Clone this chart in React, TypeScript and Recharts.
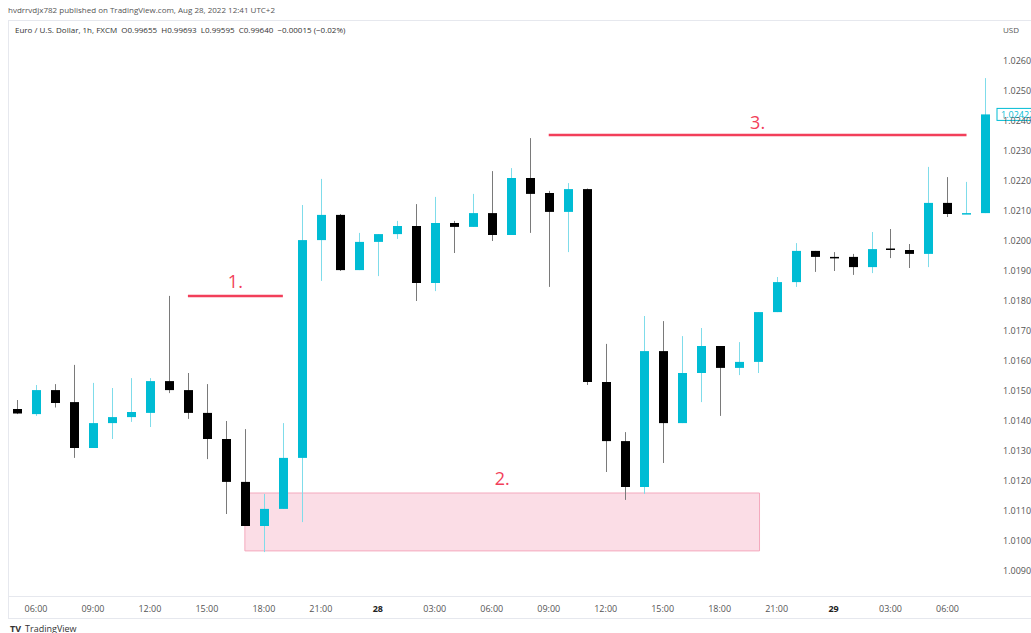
import React from "react";
import { Bar, ComposedChart, ReferenceArea, ReferenceLine, XAxis, YAxis } from "recharts";

// EURUSD 1h candles
const opens = [
  1.0144, 1.01423, 1.01503, 1.01463, 1.0131, 1.01393, 1.01413, 1.01427, 1.01533, 1.01503,
  1.01427, 1.0134, 1.01197, 1.0105, 1.01107, 1.01277, 1.02003, 1.02087, 1.01903, 1.01997,
  1.02023, 1.0205, 1.0186, 1.0206, 1.02047, 1.02093, 1.0202, 1.0221, 1.0216, 1.02097,
  1.02173, 1.0153, 1.01333, 1.0118, 1.01633, 1.01393, 1.0156, 1.0165, 1.01577, 1.01597,
  1.01763, 1.01863, 1.01967, 1.01947, 1.01947, 1.01913, 1.01975, 1.0197, 1.01957, 1.02127,
  1.0209, 1.02093,
];
const highs = [
  1.0147, 1.0152, 1.01523, 1.01587, 1.01527, 1.0151, 1.01543, 1.01543, 1.01817, 1.0156,
  1.01523, 1.014, 1.01373, 1.01157, 1.01393, 1.0212, 1.02207, 1.0209, 1.02027, 1.02023,
  1.02067, 1.02123, 1.02147, 1.02067, 1.02157, 1.02233, 1.02243, 1.02343, 1.02167, 1.02193,
  1.02175, 1.01657, 1.01363, 1.0175, 1.01733, 1.01683, 1.0171, 1.0165, 1.01663, 1.01763,
  1.0188, 1.01993, 1.01967, 1.01963, 1.01957, 1.0203, 1.0204, 1.0199, 1.02247, 1.02213,
  1.02197, 1.02543,
];
const lows = [
  1.01423, 1.01417, 1.01445, 1.01277, 1.0131, 1.0134, 1.01397, 1.0138, 1.01493, 1.01407,
  1.01273, 1.0109, 1.0105, 1.00963, 1.01107, 1.01063, 1.01867, 1.019, 1.01903, 1.01883,
  1.02007, 1.018, 1.01833, 1.0196, 1.02047, 1.02, 1.0202, 1.02027, 1.01847, 1.01963,
  1.0152, 1.0123, 1.01137, 1.01157, 1.0126, 1.01393, 1.01463, 1.01417, 1.01553, 1.0156,
  1.01763, 1.01847, 1.01897, 1.019, 1.01887, 1.01893, 1.01943, 1.0191, 1.01913, 1.0208,
  1.0209, 1.02093,
];
const closes = [
  1.01425, 1.01503, 1.0146, 1.0131, 1.01393, 1.01413, 1.0143, 1.01533, 1.01503, 1.01427,
  1.0134, 1.01197, 1.0105, 1.01107, 1.01277, 1.02003, 1.02087, 1.01903, 1.01997, 1.02023,
  1.0205, 1.0186, 1.0206, 1.02047, 1.02093, 1.0202, 1.0221, 1.02157, 1.02097, 1.02173,
  1.0153, 1.01333, 1.0118, 1.01633, 1.01393, 1.0156, 1.0165, 1.01577, 1.01597, 1.01763,
  1.01863, 1.01967, 1.01947, 1.01945, 1.01913, 1.01973, 1.01973, 1.01957, 1.02127, 1.0209,
  1.02093, 1.02422,
];

const timeTicks = [1, 4, 7, 10, 13, 16, 19, 22, 25, 28, 31, 34, 37, 40, 43, 46, 49];
const timeLabels = [
  "06:00", "09:00", "12:00", "15:00", "18:00", "21:00", "28", "03:00", "06:00",
  "09:00", "12:00", "15:00", "18:00", "21:00", "29", "03:00", "06:00",
];
const priceTicks = [
  1.009, 1.01, 1.011, 1.012, 1.013, 1.014, 1.015, 1.016, 1.017, 1.018, 1.019, 1.02, 1.021,
  1.022, 1.023, 1.024, 1.025, 1.026,
];
const lastPrice = 1.02422;

const UP = "#00bcd4";
const UP_WICK = "#7fdcea";
const DOWN = "#000000";
const DOWN_WICK = "#7a7a7a";
const MARK = "#f23f5a";
const FONT = "'Open Sans', sans-serif";

const data = opens.map((open, i) => ({
  idx: i,
  open,
  high: highs[i],
  low: lows[i],
  close: closes[i],
  range: [lows[i], highs[i]],
}));

function Candle(props: any) {
  const { x, y, width, height, payload } = props;
  if (!payload) return null;
  const { open, close, high, low } = payload;
  const up = close >= open;
  const top = Math.min(y, y + height);
  const h = Math.abs(height);
  const span = high - low || 1e-9;
  const toY = (v: number) => top + ((high - v) / span) * h;
  const cx = Math.round(x + width / 2) + 0.5;
  const bodyTop = toY(Math.max(open, close));
  const bodyBot = toY(Math.min(open, close));
  return (
    <g>
      <line x1={cx} x2={cx} y1={top} y2={top + h} stroke={up ? UP_WICK : DOWN_WICK} strokeWidth={1} />
      <rect
        x={cx - width / 2}
        y={bodyTop}
        width={width}
        height={Math.max(bodyBot - bodyTop, 1.5)}
        fill={up ? UP : DOWN}
      />
    </g>
  );
}

function TimeTick(props: any) {
  const { x, y, payload } = props;
  const label = timeLabels[timeTicks.indexOf(payload.value)] ?? "";
  const isDay = !label.includes(":");
  return (
    <text x={x} y={y} dy={9} textAnchor="middle" fontSize={9} fontFamily={FONT} fill={isDay ? "#222" : "#555"} fontWeight={isDay ? 700 : 400}>
      {label}
    </text>
  );
}

function LastPriceLabel(props: any) {
  const vb = props.viewBox;
  if (!vb) return null;
  const x = vb.x + vb.width + 2;
  const y = vb.y;
  return (
    <g>
      <rect x={x} y={y - 6} width={40} height={12} fill="#fff" stroke={UP} strokeWidth={1} />
      <text x={x + 4} y={y + 3.5} fontSize={9} fontFamily={FONT} fill={UP}>
        {lastPrice.toFixed(5)}
      </text>
    </g>
  );
}

export default function App() {
  const border = "#e6e8ee";
  return (
    <div style={{ position: "absolute", left: 0, top: 0, width: 1031, height: 633, background: "#fff", overflow: "hidden", fontFamily: FONT }}>
      <div style={{ position: "absolute", left: 8, top: 4, fontSize: 8, color: "#555", whiteSpace: "nowrap" }}>
        hvdrrvdjx782 published on TradingView.com, Aug 28, 2022 12:41 UTC+2
      </div>
      <div style={{ position: "absolute", left: 8, top: 20, width: 1023, height: 1, background: border }} />
      <div style={{ position: "absolute", left: 15, top: 24, fontSize: 8, color: "#333", whiteSpace: "pre" }}>
        {"Euro / U.S. Dollar, 1h, FXCM  O0.99655  H0.99693  L0.99595  C0.99640  \u22120.00015 (\u22120.02%)"}
      </div>
      <div style={{ position: "absolute", left: 1003, top: 24, fontSize: 8, color: "#555" }}>USD</div>
      <div style={{ position: "absolute", left: 8, top: 20, width: 1, height: 598, background: border }} />
      <div style={{ position: "absolute", left: 8, top: 596, width: 1023, height: 1, background: border }} />
      <div style={{ position: "absolute", left: 8, top: 618, width: 1023, height: 1, background: border }} />
      <div style={{ position: "absolute", left: 10, top: 622, fontSize: 9, color: "#333", whiteSpace: "nowrap" }}>
        <b style={{ marginRight: 4 }}>TV</b>TradingView
      </div>
      <div style={{ position: "absolute", left: 0, top: 0 }}>
        <ComposedChart
          width={1031}
          height={620}
          data={data}
          margin={{ top: 22, right: 0, bottom: 0, left: 7.5 }}
          barCategoryGap="26%"
        >
          <XAxis
            dataKey="idx"
            type="category"
            ticks={timeTicks}
            interval={0}
            tick={<TimeTick />}
            tickLine={false}
            axisLine={false}
            height={25}
          />
          <XAxis xAxisId="n" type="number" dataKey="idx" domain={[-0.5, 51.5]} hide />
          <YAxis
            orientation="right"
            domain={[1.0082, 1.0273]}
            ticks={priceTicks}
            allowDataOverflow
            tickFormatter={(v: number) => v.toFixed(5)}
            tick={{ fontSize: 9, fill: "#555", fontFamily: FONT, textAnchor: "start" }}
            tickLine={false}
            tickSize={0}
            tickMargin={8}
            axisLine={false}
            width={36}
          />
          <ReferenceArea
            xAxisId="n"
            x1={12}
            x2={39.1}
            y1={1.00967}
            y2={1.0116}
            fill="#fbdde6"
            fillOpacity={1}
            stroke="#f4a9bd"
            strokeWidth={1}
            label={{ value: "2.", position: "top", offset: 8, fill: MARK, fontSize: 18, fontFamily: FONT }}
          />
          <Bar dataKey="range" shape={<Candle />} isAnimationActive={false} />
          <ReferenceLine
            xAxisId="n"
            segment={[{ x: 9, y: 1.01817 }, { x: 14, y: 1.01817 }]}
            stroke={MARK}
            strokeWidth={2.5}
            label={{ value: "1.", position: "top", offset: 8, fill: MARK, fontSize: 18, fontFamily: FONT }}
          />
          <ReferenceLine
            xAxisId="n"
            segment={[{ x: 28, y: 1.02353 }, { x: 50, y: 1.02353 }]}
            stroke={MARK}
            strokeWidth={2.5}
            label={{ value: "3.", position: "top", offset: 6, fill: MARK, fontSize: 18, fontFamily: FONT }}
          />
          <ReferenceLine y={lastPrice} stroke="none" strokeOpacity={0} label={<LastPriceLabel />} />
        </ComposedChart>
      </div>
    </div>
  );
}
